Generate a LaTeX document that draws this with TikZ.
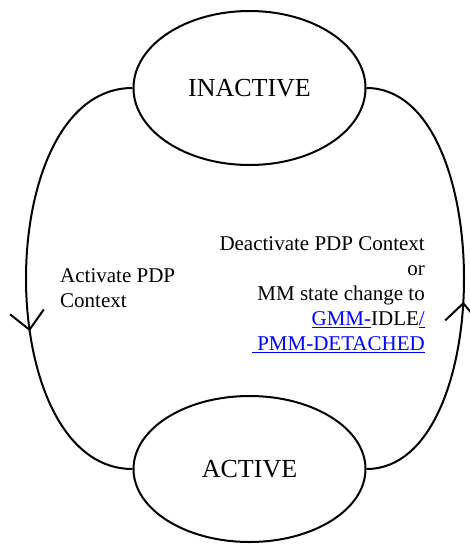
\documentclass[tikz,border=0pt]{standalone}
\usepackage{fontspec}
\setmainfont{Liberation Serif}
\usetikzlibrary{shapes.geometric,arrows.meta,decorations.markings}
\tikzset{
  state/.style={draw, line width=2pt, ellipse, inner sep=0pt, minimum width=232pt, minimum height=154pt, font=\fontsize{26}{30}\selectfont},
  trans/.style={line width=2pt},
  lbl/.style={inner sep=0pt, font=\fontsize{21}{25}\selectfont},
  barb/.style={decoration={markings, mark=at position #1 with {\arrow{Straight Barb[length=18pt,width=34pt,line width=2pt]}}}, postaction={decorate}}
}
\newcommand{\lnk}[1]{\textcolor{linkblue}{\underline{#1}}}
\definecolor{linkblue}{RGB}{0,0,255}
\begin{document}
\begin{tikzpicture}[x=1pt,y=-1pt]
\useasboundingbox (0,0) rectangle (470,544);
\node[state] (inactive) at (249.5,88) {INACTIVE};
\node[state, minimum height=146pt] (active) at (249.5,469) {ACTIVE};
\draw[trans, barb=0.61] (inactive.west) .. controls +(-142,0) and +(-142,0) .. (active.west);
\draw[trans, barb=0.45] (active.east) .. controls +(130,0) and +(130,0) .. (inactive.east);
\node[lbl, align=left, anchor=north west] (actlbl) at (60,268) {Activate PDP\\Context};
\node[lbl, align=right, anchor=north east] (deactlbl) at (425,236.5) {Deactivate PDP Context\\or\\MM state change to\\\lnk{GMM-}IDLE\lnk{/}\\\lnk{\ PMM-DETACHED}};
\end{tikzpicture}
\end{document}
